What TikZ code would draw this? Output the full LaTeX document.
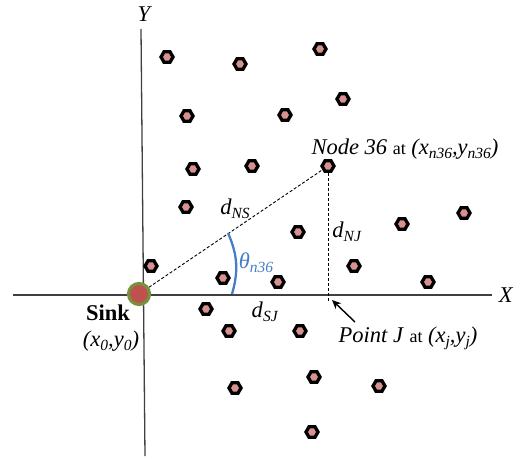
\documentclass[tikz,border=0pt]{standalone}
\usepackage{fontspec}
\setmainfont{Liberation Serif}
\usetikzlibrary{shapes.geometric,arrows.meta}
\definecolor{nodepink}{RGB}{217,145,143}
\definecolor{sinkred}{RGB}{192,80,77}
\definecolor{sinkgreen}{RGB}{118,146,60}
\definecolor{thetablue}{RGB}{68,126,196}
\definecolor{axisgray}{RGB}{64,64,64}
\newcommand{\mysb}[1]{\raisebox{-0.4ex}{\fontsize{15.5}{15.5}\selectfont #1}}
\newcommand{\smallat}{{\fontsize{18}{20}\selectfont at}}
\begin{document}
\begin{tikzpicture}[x=1pt,y=-1pt,
  sensor/.style={regular polygon,regular polygon sides=6,draw=black,line width=3.3pt,fill=nodepink,minimum size=12pt,inner sep=0pt},
  axisline/.style={draw=axisgray,line width=1.3pt},
  dashline/.style={dash pattern=on 3pt off 2pt,line width=0.9pt},
  lbl/.style={font=\fontsize{22.5}{26}\selectfont,inner sep=0pt}]
\useasboundingbox (0,0) rectangle (522,458);

% axes
\coordinate (xs) at (13,295);
\coordinate (xe) at (492,295);
\coordinate (ys) at (141,29);
\coordinate (ye) at (145,456);
\draw[axisline] (xs) -- (xe);
\draw[axisline] (ys) -- (ye);
\node[lbl] (xl) at (506,295) {\textit{X}};
\node[lbl] (yl) at (145,14) {\textit{Y}};

% sensor nodes
\foreach \i/\px/\py in {1/167/57,2/240/64,3/320/49,4/187/116,5/285/115,6/343/99,
  7/193/169,8/252/166,10/186/207,11/298/232,12/402/224,13/464/213,14/151/266,
  15/223/278,16/278/282,17/354/266,18/428/282,19/206/309,20/229/331,21/300/331,
  22/235/388,23/314/377,24/379/386,25/312/432}
  \node[sensor] (s\i) at (\px,\py) {};
\node[sensor] (n36) at (328,166) {};

% sink
\node[circle,draw=sinkgreen,line width=3.2pt,fill=sinkred,minimum size=21pt,inner sep=0pt] (sink) at (139,294) {};

% geometry lines
\coordinate (J) at (328,302);
\draw[dashline] (sink) -- (n36);
\draw[dashline] (n36) -- (J);

% angle arc
\coordinate (a1) at (232,294);
\coordinate (a2) at (228,233);
\draw[thetablue,line width=2.3pt] (a1) to[bend right=20] (a2);

% arrow to point J
\coordinate (arrS) at (355,322);
\coordinate (arrE) at (332,300);
\draw[-{Stealth[length=9pt,width=8pt]},line width=1.4pt] (arrS) -- (arrE);

% labels
\node[lbl] (lns) at (235,209) {\textit{d}\mysb{\textit{NS}}};
\node[lbl] (lnj) at (347,232) {\textit{d}\mysb{\textit{NJ}}};
\node[lbl] (lsj) at (265,312) {\textit{d}\mysb{\textit{SJ}}};
\node[lbl,text=thetablue] (lth) at (256,263) {\textit{θ}\mysb{\textit{n36}}};
\node[lbl] (l36) at (405,149) {\textit{Node 36} \smallat{} \textit{(x\mysb{n36},y\mysb{n36})}};
\node[lbl] (lj) at (408,338) {\textit{Point J} \smallat{} \textit{(x\mysb{j},y\mysb{j})}};
\node[lbl] (lsink) at (108,313) {\textbf{Sink}};
\node[lbl] (lsxy) at (111,341) {\textit{(x\mysb{0},y\mysb{0})}};
\end{tikzpicture}
\end{document}
